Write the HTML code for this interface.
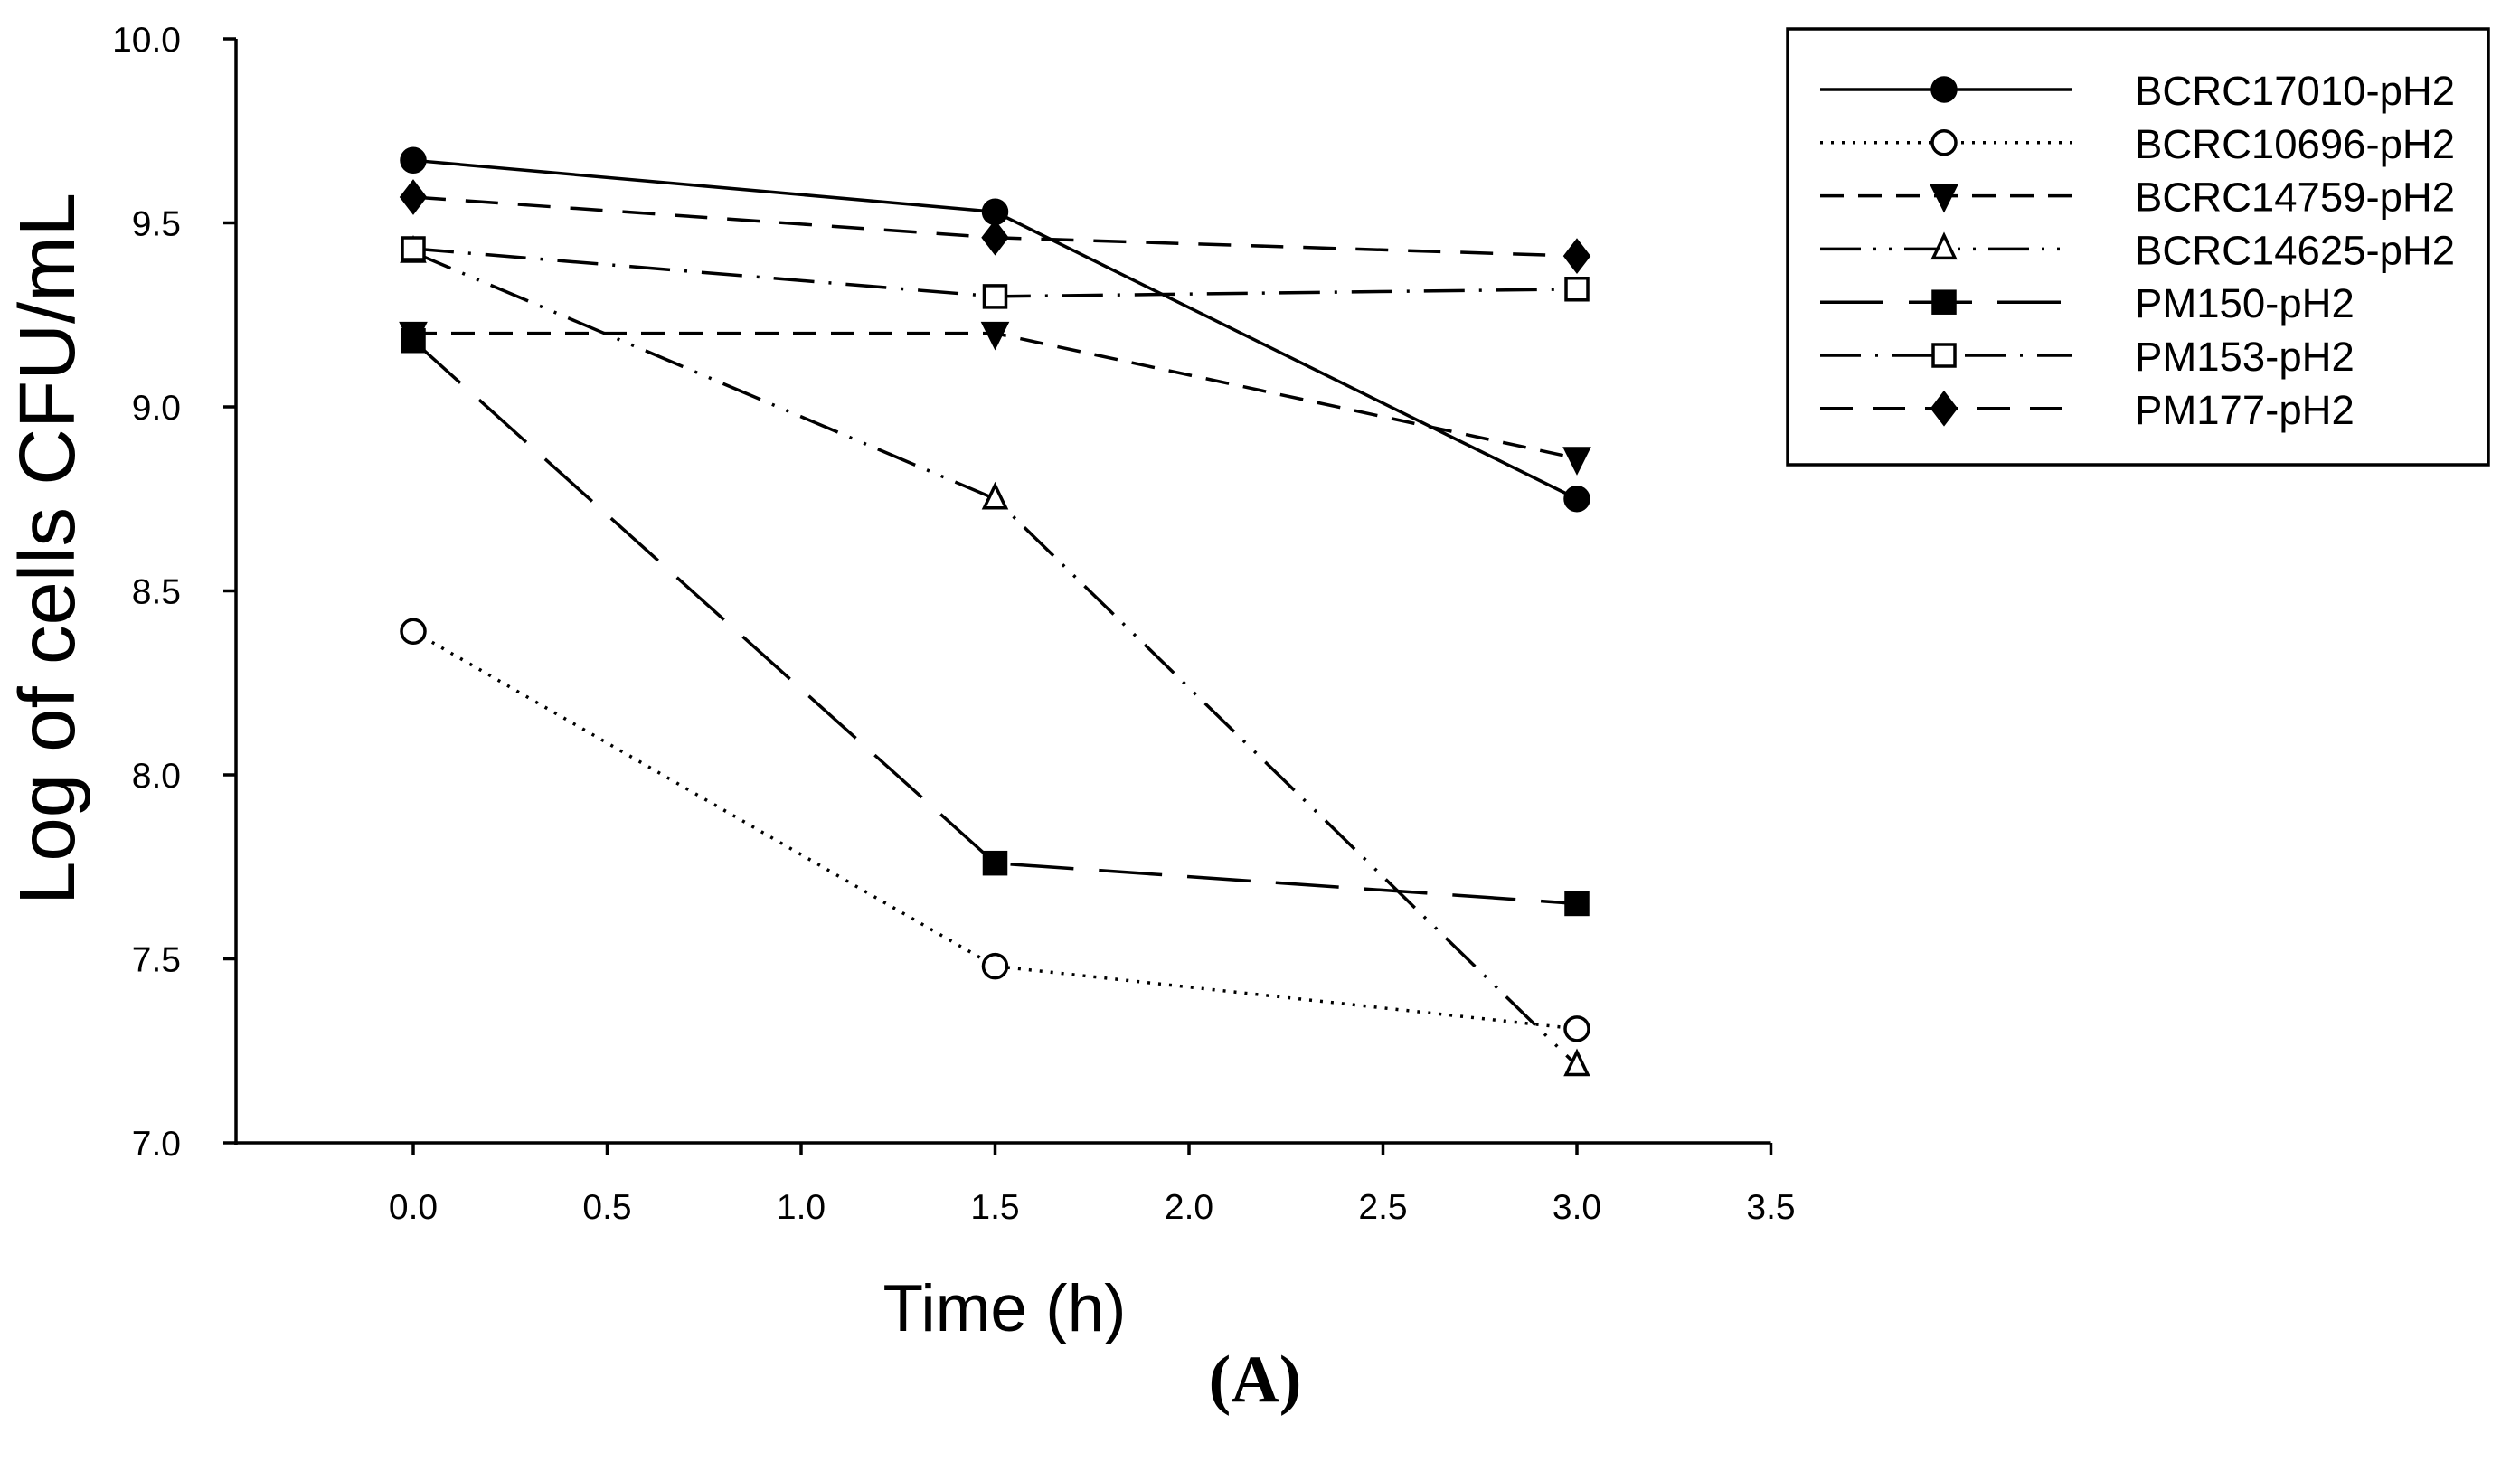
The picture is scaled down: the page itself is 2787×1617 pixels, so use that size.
<!DOCTYPE html>
<html><head><meta charset="utf-8"><style>
html,body{margin:0;padding:0;background:#fff;}
svg{display:block;}
text{font-family:"Liberation Sans",Arial,sans-serif;fill:#000;}
</style></head><body>
<svg id="chart" width="2787" height="1617" viewBox="0 0 2787 1617" xmlns="http://www.w3.org/2000/svg">
<g id="axes"></g>
<g id="series"></g>
<g id="legend"></g>
<text x="0" y="0" font-size="87" text-anchor="middle" transform="translate(82,607) rotate(-90)">Log of cells CFU/mL</text>
<text x="1111" y="1472" font-size="73" text-anchor="middle">Time (h)</text>
<text x="1388" y="1550" font-size="74" font-weight="bold" text-anchor="middle" style="font-family:'Liberation Serif',serif">(A)</text>
</svg>
<script>
const times = [0, 1.5, 3.0];
const seriesNames = ["BCRC17010-pH2","BCRC10696-pH2","BCRC14759-pH2","BCRC14625-pH2","PM150-pH2","PM153-pH2","PM177-pH2"];
const valsBCRC17010 = [9.67, 9.53, 8.75];
const valsBCRC10696 = [8.39, 7.48, 7.31];
const valsBCRC14759 = [9.20, 9.20, 8.86];
const valsBCRC14625 = [9.42, 8.75, 7.21];
const valsPM150 = [9.18, 7.76, 7.65];
const valsPM153 = [9.43, 9.30, 9.32];
const valsPM177 = [9.57, 9.46, 9.41];
const xTicks = [0.0, 0.5, 1.0, 1.5, 2.0, 2.5, 3.0, 3.5];
const yTicks = [7.0, 7.5, 8.0, 8.5, 9.0, 9.5, 10.0];

const NS = "http://www.w3.org/2000/svg";
const X0 = 457, XU = 429, Y0 = 1264, YU = 407;
function sx(v){ return X0 + v*XU; }
function sy(v){ return Y0 - (v-7)*YU; }
function mk(tag, attrs, parent){ const e=document.createElementNS(NS,tag); for(const k in attrs) e.setAttribute(k,attrs[k]); parent.appendChild(e); return e; }

const axes = document.getElementById('axes');
const yl = mk('line',{x1:261,y1:sy(10),x2:261,y2:Y0+2,stroke:'#000','stroke-width':3.5},axes);


const xl = mk('line',{x1:259,y1:Y0,x2:sx(3.5),y2:Y0,stroke:'#000','stroke-width':3.5},axes);


yTicks.forEach(t=>{
  const tk = mk('line',{x1:247,y1:sy(t),x2:261,y2:sy(t),stroke:'#000','stroke-width':3.5},axes);
  
  
  const tl = mk('text',{x:200,y:sy(t)+14,'font-size':39,'text-anchor':'end'},axes);
  
  
  tl.textContent = t.toFixed(1);
});
xTicks.forEach(t=>{
  const tk = mk('line',{x1:sx(t),y1:Y0,x2:sx(t),y2:Y0+14,stroke:'#000','stroke-width':3.5},axes);
  
  
  const tl = mk('text',{x:sx(t),y:1348,'font-size':39,'text-anchor':'middle'},axes);
  
  
  tl.textContent = t.toFixed(1);
});

const styles = [
  {vals:valsBCRC17010, dash:'', marker:'circle', fill:'#000'},
  {vals:valsBCRC10696, dash:'3 9', marker:'circle', fill:'#fff'},
  {vals:valsBCRC14759, dash:'26 16', marker:'tridown', fill:'#000'},
  {vals:valsBCRC14625, dash:'45 14 3 14 3 14', marker:'triup', fill:'#fff'},
  {vals:valsPM150, dash:'70 28', marker:'square', fill:'#000'},
  {vals:valsPM153, dash:'45 16 3 16', marker:'square', fill:'#fff'},
  {vals:valsPM177, dash:'36 22', marker:'diamond', fill:'#000'}
];
function drawMarker(type, x, y, fill, parent, r){
  let e;
  const sw = 3.5;
  if(type==='circle') e = mk('ellipse',{cx:x,cy:y,rx:r,ry:r,fill:fill,stroke:'#000','stroke-width':sw},parent);
  else if(type==='square') e = mk('rect',{x:x-r+1,y:y-r+1,width:2*r-2,height:2*r-2,fill:fill,stroke:'#000','stroke-width':sw},parent);
  else if(type==='tridown') e = mk('polygon',{points:`${x-r},${y-r+2} ${x+r},${y-r+2} ${x},${y+r+2}`,fill:fill,stroke:'#000','stroke-width':sw},parent);
  else if(type==='triup') e = mk('polygon',{points:`${x-r+1},${y+r-3} ${x+r-1},${y+r-3} ${x},${y-r-2}`,fill:fill,stroke:'#000','stroke-width':sw},parent);
  else e = mk('polygon',{points:`${x},${y-r-4} ${x+r},${y} ${x},${y+r+4} ${x-r},${y}`,fill:fill,stroke:'#000','stroke-width':sw},parent);
  return e;
}
const sg = document.getElementById('series');
styles.forEach((s,i)=>{
  const g = mk('g',{},sg);
  
  
  const pts = s.vals.map((v,j)=>sx(times[j])+','+sy(v)).join(' ');
  const pl = mk('polyline',{points:pts,fill:'none',stroke:'#000','stroke-width':3.5,'stroke-dasharray':s.dash},g);
  
  
  s.vals.forEach((v,j)=>{
    const m = drawMarker(s.marker, sx(times[j]), sy(v), s.fill, g, 13);
    
    
  });
});

const lg = document.getElementById('legend');
const box = mk('rect',{x:1977,y:32,width:775,height:482,fill:'#fff',stroke:'#000','stroke-width':3.5},lg);


styles.forEach((s,i)=>{
  const y = 99 + i*58.8;
  const g = mk('g',{},lg);
  
  
  const ln = mk('line',{x1:2013,y1:y,x2:2291,y2:y,stroke:'#000','stroke-width':3.5,'stroke-dasharray':s.dash},g);
  
  
  const m = drawMarker(s.marker, 2150, y, s.fill, g, 13);
  
  
  const t = mk('text',{x:2361,y:y+17,'font-size':45.5},g);
  
  
  t.textContent = seriesNames[i];
});
</script>
</body></html>
